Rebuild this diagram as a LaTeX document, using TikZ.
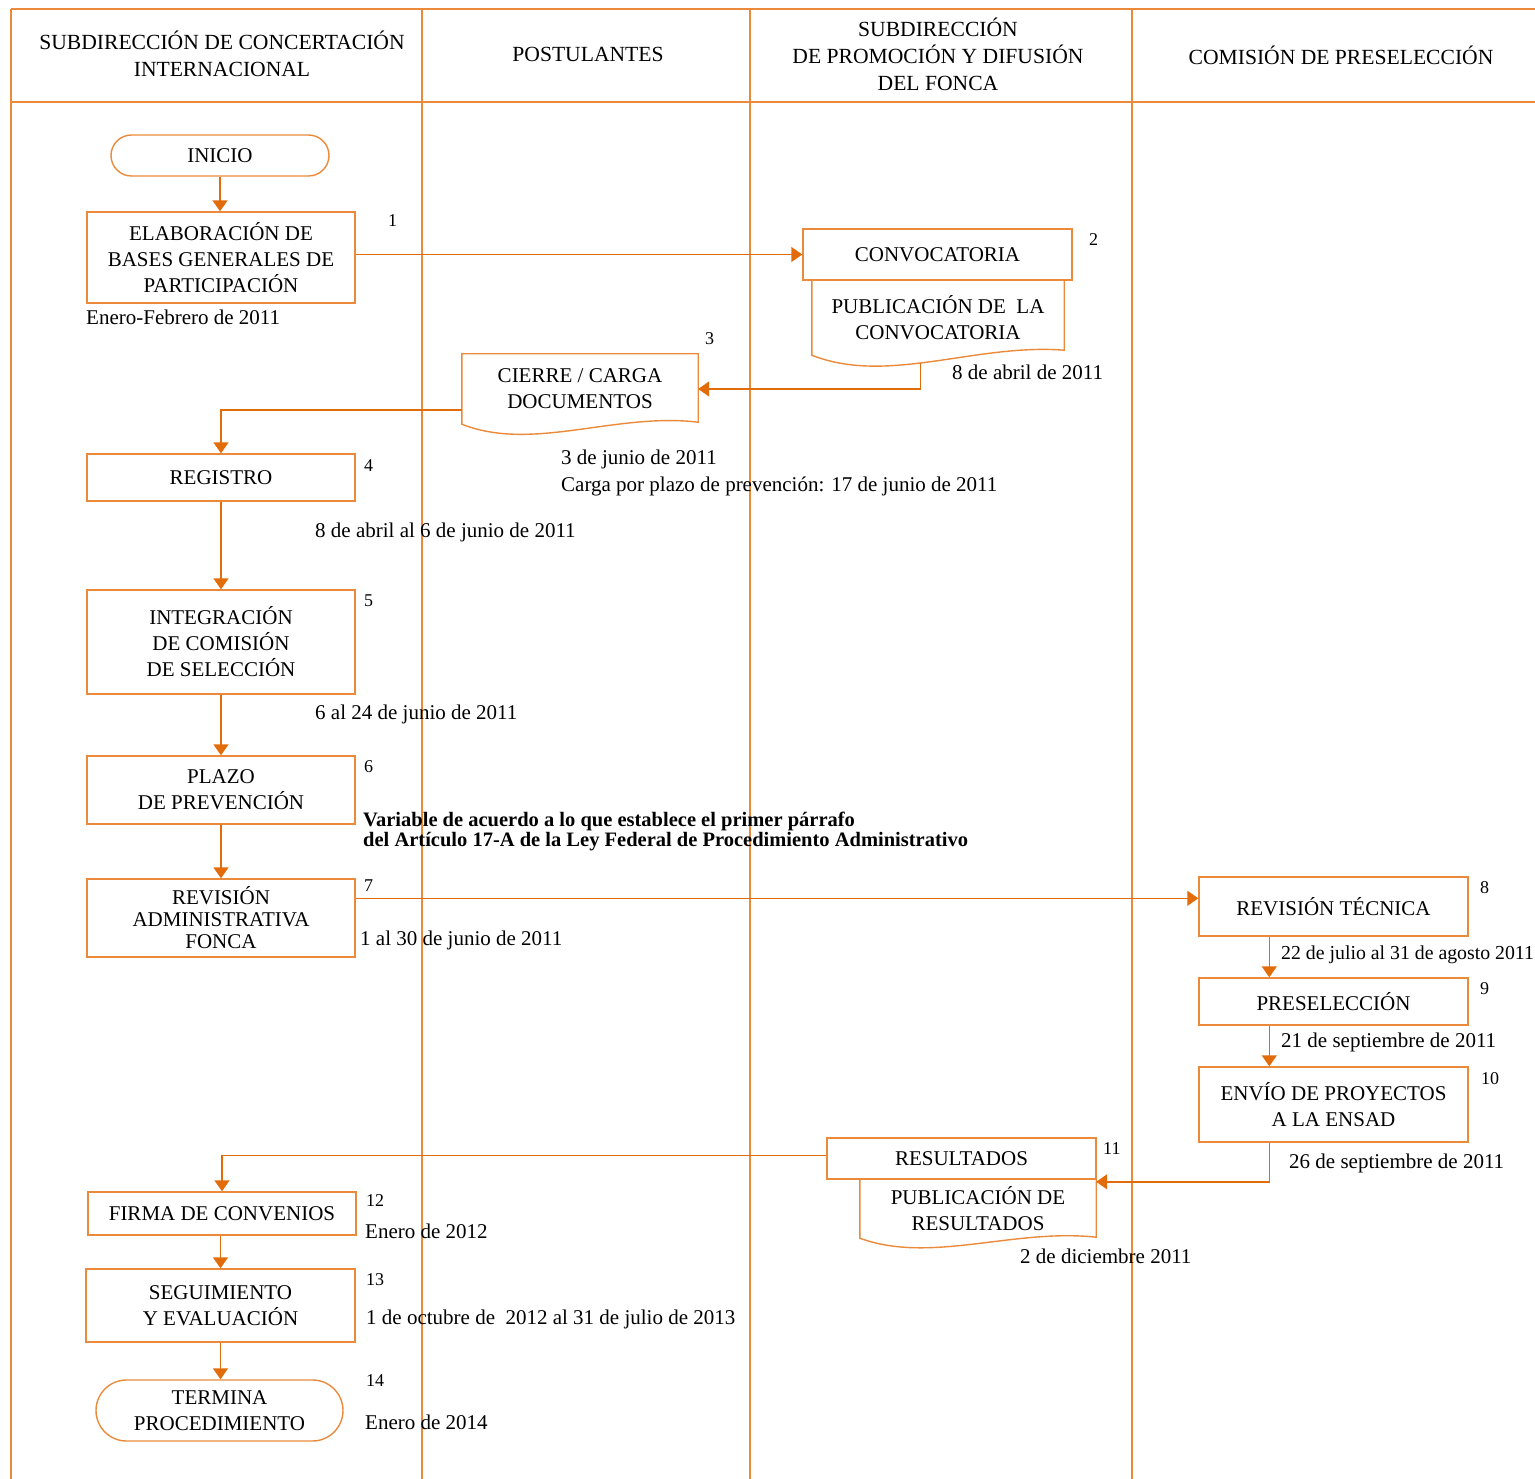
\documentclass[tikz,border=0pt]{standalone}
\usepackage{fontspec}
\setmainfont{Liberation Serif}
\usetikzlibrary{arrows.meta,calc,shapes.misc}
\definecolor{lanecol}{HTML}{EA8A3A}
\definecolor{flowcol}{HTML}{E36C0A}
\begin{document}
\begin{tikzpicture}[x=1pt,y=-1pt,
  laneline/.style={draw=lanecol,line width=1.4pt},
  boxnode/.style={draw=lanecol,line width=1.4pt,rectangle,inner sep=0pt,align=center,
    font=\fontsize{21}{26}\selectfont,text=black},
  plainbox/.style={inner sep=0pt,align=center,font=\fontsize{21}{26}\selectfont,text=black},
  termnode/.style={boxnode,rounded rectangle},
  conn/.style={draw=flowcol,line width=1.6pt},
  arr/.style={conn,-{Triangle[width=15pt,length=11pt]}},
  hdr/.style={inner sep=0pt,align=center,font=\fontsize{21.6}{27}\selectfont},
  datetxt/.style={anchor=west,inner sep=0pt,text height=13.5pt,text depth=0pt,font=\fontsize{21}{25}\selectfont},
  numtxt/.style={anchor=west,inner sep=0pt,text height=12pt,text depth=0pt,font=\fontsize{18}{20}\selectfont},
  boldtxt/.style={anchor=west,inner sep=0pt,align=left,font=\fontsize{20.5}{20}\selectfont\bfseries}
]
\useasboundingbox (0,0) rectangle (1535,1479);

% lanes
\draw[laneline] (11,9) -- (1535,9);
\draw[laneline] (11,102) -- (1535,102);
\foreach \xx in {11,422,750,1132} \draw[laneline] (\xx,9) -- (\xx,1479);

\node[hdr] (h1) at (222,54) {SUBDIRECCIÓN DE CONCERTACIÓN\\INTERNACIONAL};
\node[hdr] (h2) at (588,54) {POSTULANTES};
\node[hdr] (h3) at (938,54) {SUBDIRECCIÓN\\DE PROMOCIÓN Y DIFUSIÓN\\DEL FONCA};
\node[hdr] (h4) at (1341,55) {COMISIÓN DE PRESELECCIÓN};

% nodes
\node[termnode,minimum width=218pt,minimum height=41pt] (inicio) at (220,155.5) {INICIO};
\node[boxnode,minimum width=268pt,minimum height=91pt] (elab) at (221,257.5) {ELABORACIÓN DE\\BASES GENERALES DE\\PARTICIPACIÓN};
\node[boxnode,minimum width=269pt,minimum height=51pt] (convoc) at (937.5,254.5) {CONVOCATORIA};
\node[plainbox,minimum width=252pt,minimum height=75pt] (pubconv) at (938,317.5) {PUBLICACIÓN DE~ LA\\CONVOCATORIA};
\node[plainbox,minimum width=236pt,minimum height=70pt] (cierre) at (580,389) {CIERRE / CARGA\\DOCUMENTOS};
\node[boxnode,minimum width=268pt,minimum height=47pt] (registro) at (221,477.5) {REGISTRO};
\node[boxnode,minimum width=268pt,minimum height=104pt] (integ) at (221,642) {INTEGRACIÓN\\DE COMISIÓN\\DE SELECCIÓN};
\node[boxnode,minimum width=268pt,minimum height=68pt] (plazo) at (221,790) {PLAZO\\DE PREVENCIÓN};
\node[boxnode,minimum width=268pt,minimum height=78pt,font=\fontsize{21}{22}\selectfont] (revadm) at (221,918) {REVISIÓN\\ADMINISTRATIVA\\FONCA};
\node[boxnode,minimum width=269pt,minimum height=59pt] (revtec) at (1333.5,906.5) {REVISIÓN TÉCNICA};
\node[boxnode,minimum width=269pt,minimum height=47pt] (presel) at (1333.5,1001.5) {PRESELECCIÓN};
\node[boxnode,minimum width=269pt,minimum height=75pt] (envio) at (1333.5,1104.5) {ENVÍO DE PROYECTOS\\A LA ENSAD};
\node[boxnode,minimum width=269pt,minimum height=41pt] (result) at (961.5,1158.5) {RESULTADOS};
\node[plainbox,minimum width=236pt,minimum height=59pt] (pubres) at (978,1208.5) {PUBLICACIÓN DE\\RESULTADOS};
\node[boxnode,minimum width=268pt,minimum height=43pt] (firma) at (222,1213.5) {FIRMA DE CONVENIOS};
\node[boxnode,minimum width=269pt,minimum height=73pt] (seguim) at (220.5,1305.5) {SEGUIMIENTO\\Y EVALUACIÓN};
\node[termnode,minimum width=247pt,minimum height=61pt] (termina) at (219.5,1410.5) {TERMINA\\PROCEDIMIENTO};

% document shapes
\draw[laneline] (pubconv.south west) .. controls ($(pubconv.south west)!0.3!(pubconv.south east)+(0,-30pt)$) and ($(pubconv.south west)!0.65!(pubconv.south east)+(0,12pt)$) .. coordinate[pos=0.45] (pcb) ($(pubconv.south east)+(0,5pt)$) -- (pubconv.north east) -- (pubconv.north west) -- cycle;
\draw[laneline] (cierre.south west) .. controls ($(cierre.south west)!0.3!(cierre.south east)+(0,-28pt)$) and ($(cierre.south west)!0.65!(cierre.south east)+(0,12pt)$) .. ($(cierre.south east)+(0,2pt)$) -- (cierre.north east) -- (cierre.north west) -- cycle;
\draw[laneline] (pubres.south west) .. controls ($(pubres.south west)!0.3!(pubres.south east)+(0,-26pt)$) and ($(pubres.south west)!0.65!(pubres.south east)+(0,10pt)$) .. ($(pubres.south east)+(0,1pt)$) -- (pubres.north east) -- (pubres.north west) -- cycle;

% connectors
\draw[arr] (inicio.south) -- (inicio.south |- elab.north);
\draw[arr] (convoc.west -| elab.east) -- (convoc.west);
\draw[arr] (pcb) |- (cierre.east);
\draw[arr] ([yshift=-21pt]cierre.west) -| (registro.north);
\draw[arr] (registro.south) -- (integ.north);
\draw[arr] (integ.south) -- (plazo.north);
\draw[arr] (plazo.south) -- (revadm.north);
\draw[arr] ([yshift=-20pt]revadm.north east) -- ([yshift=-20pt]revadm.north east -| revtec.west);
\draw[arr] ([xshift=71pt]revtec.south west) -- ([xshift=71pt]presel.north west);
\draw[arr] ([xshift=71pt]presel.south west) -- ([xshift=71pt]envio.north west);
\draw[arr] ([xshift=71pt]envio.south west) |- ([yshift=-3pt]pubres.north east);
\draw[arr] ([yshift=3pt]result.west) -| (firma.north);
\draw[arr] (firma.south -| seguim.north) -- (seguim.north);
\draw[arr] (seguim.south) -- (seguim.south |- termina.north);

% numbers
\node[numtxt] (n1) at (388,221) {1};
\node[numtxt] (n2) at (1089,240) {2};
\node[numtxt] (n3) at (705,339) {3};
\node[numtxt] (n4) at (364,465) {4};
\node[numtxt] (n5) at (364,600) {5};
\node[numtxt] (n6) at (364,766) {6};
\node[numtxt] (n7) at (364,885) {7};
\node[numtxt] (n8) at (1480,887) {8};
\node[numtxt] (n9) at (1480,988) {9};
\node[numtxt] (n10) at (1481,1078) {10};
\node[numtxt] (n11) at (1103,1148) {11};
\node[numtxt] (n12) at (366,1200) {12};
\node[numtxt] (n13) at (366,1279) {13};
\node[numtxt] (n14) at (366,1380) {14};

% dates
\node[datetxt] (d1) at (86,318) {Enero-Febrero de 2011};
\node[datetxt] (d2) at (952,373) {8 de abril de 2011};
\node[datetxt] (d3) at (561,458) {3 de junio de 2011};
\node[datetxt] (d3b) at (561,485) {Carga por plazo de prevención: 17 de junio de 2011};
\node[datetxt] (d4) at (315,531) {8 de abril al 6 de junio de 2011};
\node[datetxt] (d5) at (315,713) {6 al 24 de junio de 2011};
\node[boldtxt] (d6) at (363,831) {Variable de acuerdo a lo que establece el primer párrafo\\del Artículo 17-A de la Ley Federal de Procedimiento Administrativo};
\node[datetxt] (d7) at (360,939) {1 al 30 de junio de 2011};
\node[datetxt,font=\fontsize{19.8}{25}\selectfont] (d8) at (1281,953) {22 de julio al 31 de agosto 2011};
\node[datetxt] (d9) at (1281,1041) {21 de septiembre de 2011};
\node[datetxt] (d10) at (1289,1162) {26 de septiembre de 2011};
\node[datetxt] (d11) at (1020,1257) {2 de diciembre 2011};
\node[datetxt] (d12) at (365,1232) {Enero de 2012};
\node[datetxt] (d13) at (366,1318) {1 de octubre de~ 2012 al 31 de julio de 2013};
\node[datetxt] (d14) at (365,1423) {Enero de 2014};
\end{tikzpicture}
\end{document}
